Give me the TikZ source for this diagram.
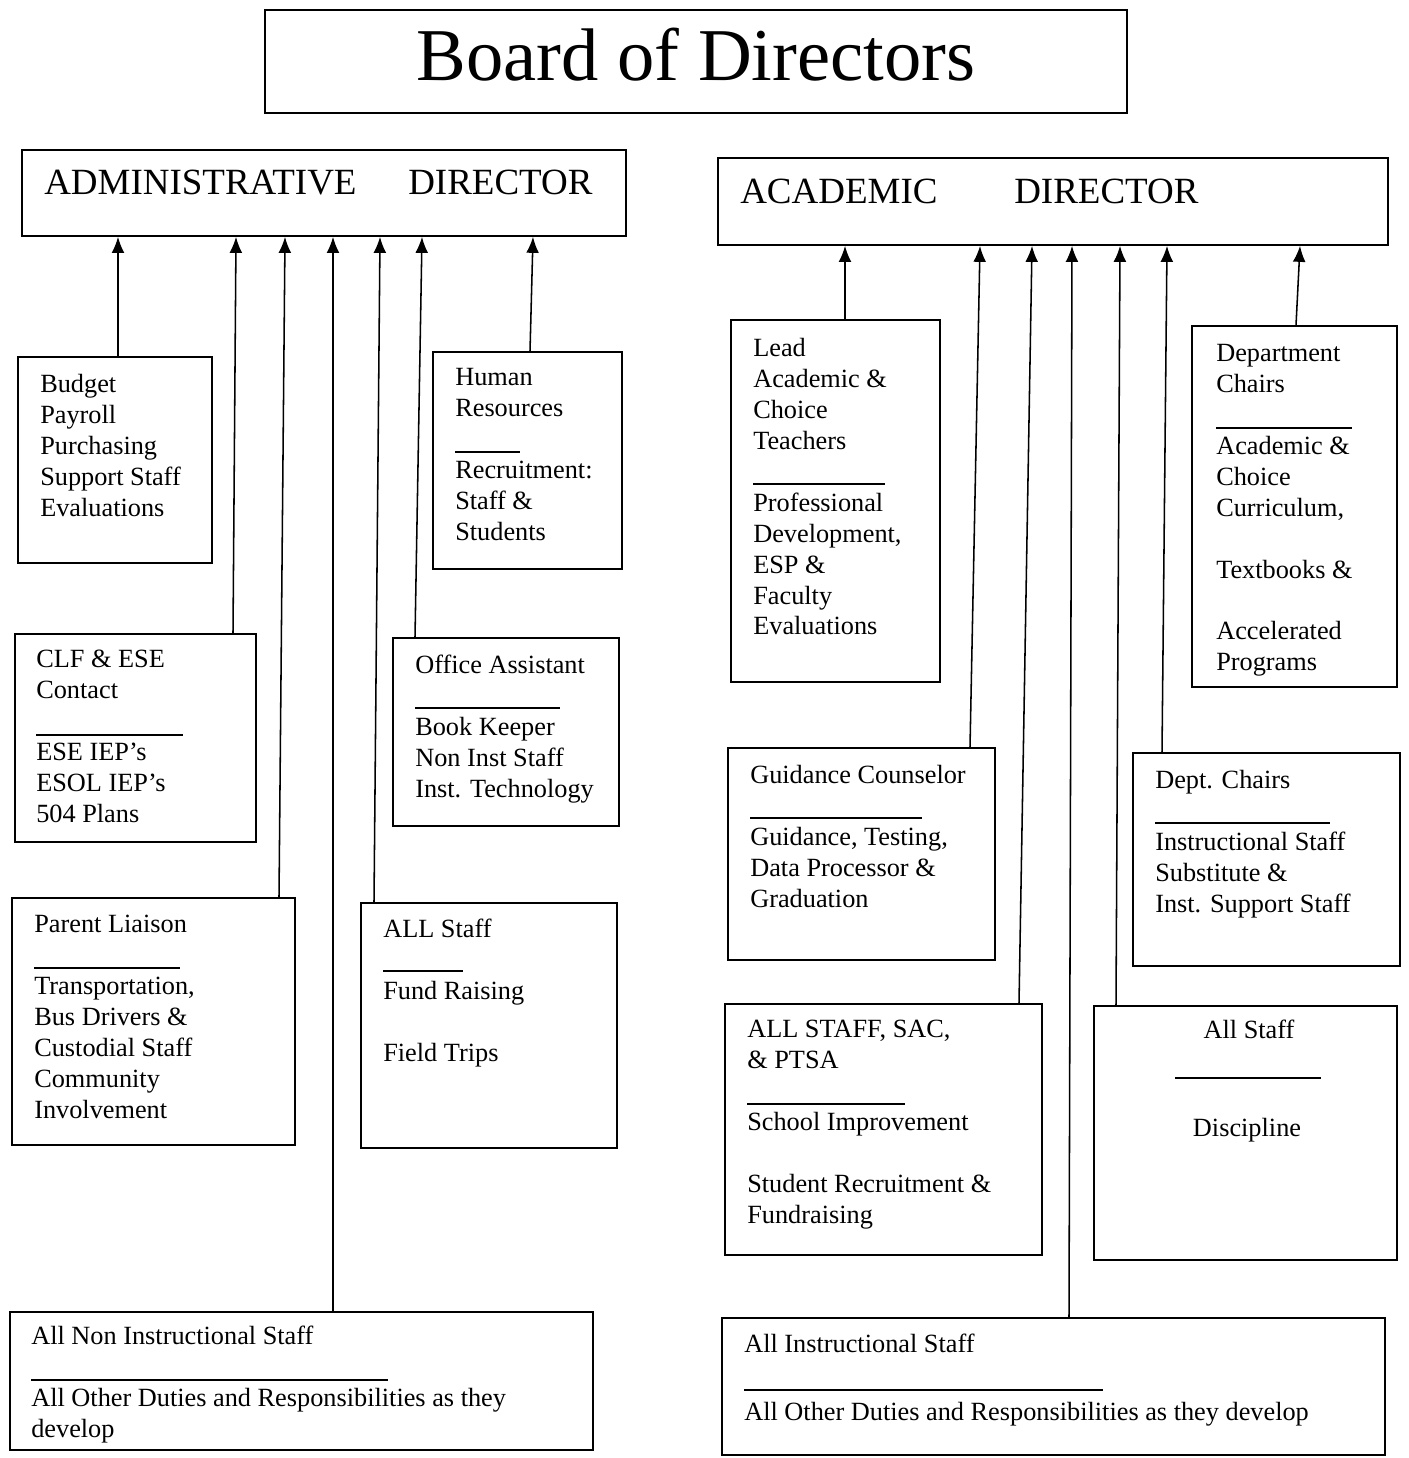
\documentclass[tikz,border=0pt]{standalone}
\usepackage{fontspec}
\setmainfont{Liberation Serif}
\usetikzlibrary{arrows.meta,fit}
\begin{document}
\begin{tikzpicture}[x=0.025cm,y=-0.025cm,
  box/.style={draw, line width=1.2pt, inner sep=0pt},
  body/.style={anchor=north west, inner sep=0pt, align=left, font=\fontsize{18.7}{22}\selectfont},
  bodyc/.style={anchor=north, inner sep=0pt, font=\fontsize{18.7}{22}\selectfont},
  head/.style={anchor=base west, inner sep=0pt, font=\fontsize{26.3}{30}\selectfont},
  arr/.style={line width=1.1pt, -{Latex[length=4mm,width=3.2mm]}},
  sep/.style={line width=1pt}]
\useasboundingbox[fill=white] (0,0) rectangle (1408,1458);

% --- top level ---
\node[box, fit={(265,10) (1127,113)}] (board) {};
\node[anchor=base, inner sep=0pt, font=\fontsize{53}{60}\selectfont] (title) at (696,81) {Board of Directors};

\node[box, fit={(22,150) (626,236)}] (admin) {};
\node[head] (adminA) at (44,195) {ADMINISTRATIVE};
\node[head] (adminB) at (408,195) {DIRECTOR};

\node[box, fit={(718,158) (1388,245)}] (acad) {};
\node[head] (acadA) at (740,203) {ACADEMIC};
\node[head] (acadB) at (1014,203) {DIRECTOR};

% --- administrative side ---
\node[box, fit={(18,357) (212,563)}] (budget) {};
\node[body] (budgetT) at (40,374) {Budget\\Payroll\\Purchasing\\Support Staff\\Evaluations};

\node[box, fit={(433,352) (622,569)}] (hr) {};
\node[body] (hrT) at (455,368) {Human\\Resources\\\mbox{}\\Recruitment:\\Staff \&\\Students};
\draw[sep] (455,452) -- (520,452);

\node[box, fit={(15,634) (256,842)}] (clf) {};
\node[body] (clfT) at (36,650) {CLF \& ESE\\Contact\\\mbox{}\\ESE IEP's\\ESOL IEP's\\504 Plans};
\draw[sep] (36,735) -- (183,735);

\node[box, fit={(393,638) (619,826)}] (office) {};
\node[body] (officeT) at (415,655) {Office Assistant\\\mbox{}\\Book Keeper\\Non Inst Staff\\Inst. Technology};
\draw[sep] (415,708) -- (560,708);

\node[box, fit={(12,898) (295,1145)}] (parent) {};
\node[body] (parentT) at (34,915) {Parent Liaison\\\mbox{}\\Transportation,\\Bus Drivers \&\\Custodial Staff\\Community\\Involvement};
\draw[sep] (34,968) -- (180,968);

\node[box, fit={(361,903) (617,1148)}] (allL) {};
\node[body] (allLT) at (383,919) {ALL Staff\\\mbox{}\\Fund Raising\\\mbox{}\\Field Trips};
\draw[sep] (383,971) -- (463,971);

\node[box, fit={(10,1312) (593,1450)}] (nonins) {};
\node[body] (noninsT) at (31,1326) {All Non Instructional Staff\\\mbox{}\\All Other Duties and Responsibilities as they\\develop};
\draw[sep] (31,1380) -- (388,1380);

% --- academic side ---
\node[box, fit={(731,320) (940,682)}] (lead) {};
\node[body] (leadT) at (753,338) {Lead\\Academic \&\\Choice\\Teachers\\\mbox{}\\Professional\\Development,\\ESP \&\\Faculty\\Evaluations};
\draw[sep] (753,484) -- (885,484);

\node[box, fit={(1192,326) (1397,687)}] (chairs) {};
\node[body] (chairsT) at (1216,344) {Department\\Chairs\\\mbox{}\\Academic \&\\Choice\\Curriculum,\\\mbox{}\\Textbooks \&\\\mbox{}\\Accelerated\\Programs};
\draw[sep] (1216,428) -- (1352,428);

\node[box, fit={(728,748) (995,960)}] (guid) {};
\node[body] (guidT) at (750,765) {Guidance Counselor\\\mbox{}\\Guidance, Testing,\\Data Processor \&\\Graduation};
\draw[sep] (750,818) -- (922,818);

\node[box, fit={(1133,753) (1400,966)}] (dept) {};
\node[body] (deptT) at (1155,770) {Dept. Chairs\\\mbox{}\\Instructional Staff\\Substitute \&\\Inst. Support Staff};
\draw[sep] (1155,823) -- (1330,823);

\node[box, fit={(725,1004) (1042,1255)}] (sac) {};
\node[body] (sacT) at (747,1020) {ALL STAFF, SAC,\\\& PTSA\\\mbox{}\\School Improvement\\\mbox{}\\Student Recruitment \&\\Fundraising};
\draw[sep] (747,1104) -- (905,1104);

\node[box, fit={(1094,1006) (1397,1260)}] (disc) {};
\node[bodyc] (discA) at (1249,1020) {All Staff};
\node[bodyc] (discB) at (1247,1118) {Discipline};
\draw[sep] (1175,1078) -- (1321,1078);

\node[box, fit={(722,1318) (1385,1455)}] (instr) {};
\node[body] (instrA) at (744,1334) {All Instructional Staff};
\node[body] (instrB) at (744,1402) {All Other Duties and Responsibilities as they develop};
\draw[sep] (744,1390) -- (1103,1390);

% --- reporting lines: lower end x, upper end x ---
\foreach \n/\xb/\xt in {budget/118/118, clf/233/236, parent/279/285, nonins/333/333,
                        allL/374/380, office/415/422, hr/530/533} {
  \coordinate (\n-b) at (\xb,0);
  \coordinate (\n-t) at (\xt,0);
  \draw[arr] (\n-b |- \n.north) -- (\n-t |- admin.south);
}
\foreach \n/\xb/\xt in {lead/845/845, guid/970/980, sac/1019/1032, instr/1069/1072,
                        disc/1116/1120, dept/1162/1167, chairs/1296/1300} {
  \coordinate (\n-b) at (\xb,0);
  \coordinate (\n-t) at (\xt,0);
  \draw[arr] (\n-b |- \n.north) -- (\n-t |- acad.south);
}
\end{tikzpicture}
\end{document}
